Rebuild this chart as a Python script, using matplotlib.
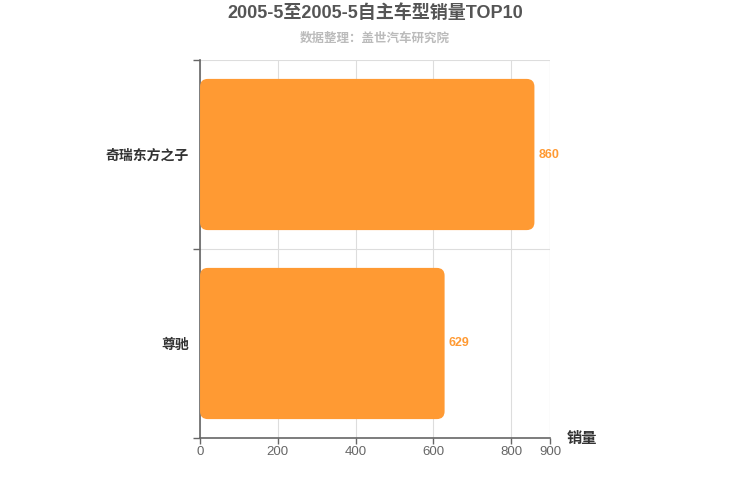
import matplotlib
matplotlib.use('Agg')
import matplotlib.pyplot as plt
from matplotlib.patches import FancyBboxPatch

plt.rcParams['font.family'] = ['Liberation Sans', 'Noto Sans CJK SC', 'DejaVu Sans']

models = ['奇瑞东方之子', '尊驰']
sales = [860, 629]
xticks = [0, 200, 400, 600, 800, 900]

color = '#FF9A33'

fig = plt.figure(figsize=(7.5, 5), dpi=100)
ax = fig.add_axes([0.2667, 0.124, 0.4666, 0.756])

ypos = list(range(len(models)))[::-1]
bars = ax.barh(ypos, sales, height=0.8, color=color)

# swap plain bars for rounded ones
for b in bars:
    x0, y0, w, h = b.get_x(), b.get_y(), b.get_width(), b.get_height()
    b.set_visible(False)
    p = FancyBboxPatch((x0, y0), w, h,
                       boxstyle='round,pad=0,rounding_size=20',
                       mutation_aspect=0.00206,
                       facecolor=color, edgecolor='none', zorder=3)
    ax.add_patch(p)

for y, v in zip(ypos, sales):
    ax.text(v + 10, y, str(v), va='center', ha='left',
            color=color, fontsize=9, fontweight='bold')

ax.set_xlim(0, 900)
ax.set_ylim(-0.5, 1.5)
ax.set_xticks(xticks)
ax.tick_params(axis='x', colors='#666666', labelsize=9.5, length=4, width=1,
               pad=2)

ax.set_yticks([-0.5, 0.5, 1.5], minor=False)
ax.set_yticklabels([])
ax.set_yticks(ypos, minor=True)
ax.set_yticklabels(models, minor=True)
ax.tick_params(axis='y', which='major', length=5, color='#666666', width=1)
ax.tick_params(axis='y', which='minor', length=0, pad=8, labelsize=10,
               labelcolor='#333333')
for lab in ax.get_yticklabels(minor=True):
    lab.set_fontweight('bold')

ax.grid(True, which='major', color='#dddddd', linewidth=0.8, zorder=0)
ax.set_axisbelow(True)
for s in ['top', 'right']:
    ax.spines[s].set_visible(False)
ax.axvline(900, color='#dddddd', linewidth=0.8, zorder=0)
for s in ['left', 'bottom']:
    ax.spines[s].set_color('#666666')
    ax.spines[s].set_linewidth(1.2)

fig.text(0.5, 0.973, '2005-5至2005-5自主车型销量TOP10', ha='center', va='center',
         fontsize=13, fontweight='bold', color='#555555')
fig.text(0.5, 0.922, '数据整理：盖世汽车研究院', ha='center', va='center',
         fontsize=9, fontweight='bold', color='#bbbbbb')
fig.text(0.755, 0.122, '销量', ha='left', va='center',
         fontsize=11, fontweight='bold', color='#333333')

fig.savefig('out.png', dpi=100)
